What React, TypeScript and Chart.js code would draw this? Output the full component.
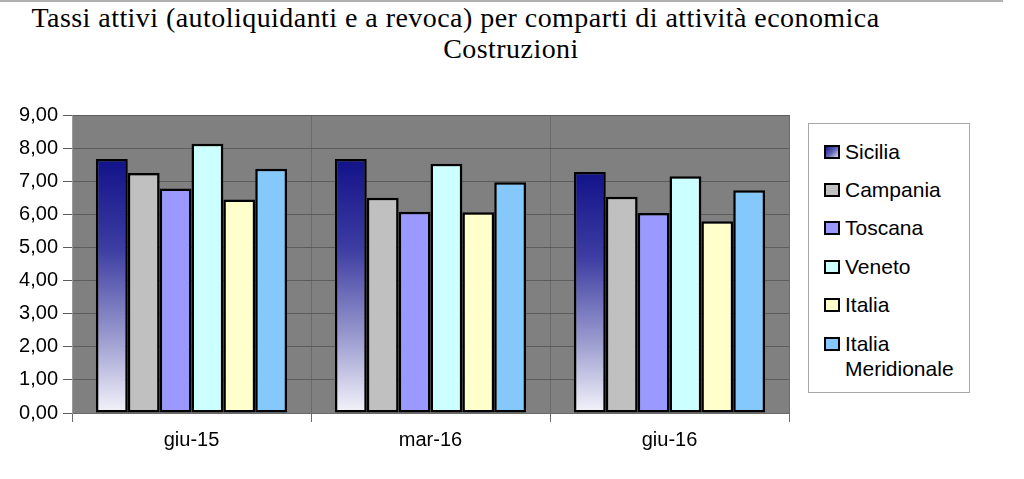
import React, { useEffect, useRef } from "react";
import { Chart, registerables } from "chart.js";

Chart.register(...registerables);

const categories = ["giu-15", "mar-16", "giu-16"];
const seriesNames = ["Sicilia", "Campania", "Toscana", "Veneto", "Italia", "Italia Meridionale"];
const sicilia = [7.67, 7.67, 7.28];
const campania = [7.25, 6.5, 6.53];
const toscana = [6.78, 6.08, 6.04];
const veneto = [8.13, 7.53, 7.15];
const italia = [6.45, 6.06, 5.79];
const meridionale = [7.38, 6.97, 6.73];
const yTicks = [0, 1, 2, 3, 4, 5, 6, 7, 8, 9];
const titleLine1 = "Tassi attivi (autoliquidanti e a revoca) per comparti di attività economica";
const titleLine2 = "Costruzioni";

const flatColors = ["#1c1c8e", "#c0c0c0", "#9999ff", "#ccffff", "#ffffcc", "#84c8fc"];
const SANS = "'Liberation Sans', Arial, sans-serif";
const SERIF = "'Liberation Serif', 'Times New Roman', serif";

export default function App() {
  const ref = useRef<HTMLCanvasElement | null>(null);

  useEffect(() => {
    if (!ref.current) return;
    const sicGradient = (ctx: any) => {
      const chart = ctx.chart;
      if (!chart.chartArea || ctx.raw === undefined) return flatColors[0];
      const ys = chart.scales.y;
      const top = ys.getPixelForValue(ctx.raw);
      const bottom = ys.getPixelForValue(0);
      const g = chart.ctx.createLinearGradient(0, top, 0, bottom);
      g.addColorStop(0, "#12128a");
      g.addColorStop(0.35, "#3c3ca2");
      g.addColorStop(0.7, "#9a9acf");
      g.addColorStop(1, "#f4f4fb");
      return g;
    };
    const values = [sicilia, campania, toscana, veneto, italia, meridionale];
    const bgPlugin = {
      id: "plotBg",
      beforeDraw(chart: any) {
        const { ctx, chartArea } = chart;
        ctx.save();
        ctx.fillStyle = "#808080";
        ctx.fillRect(chartArea.left, chartArea.top, chartArea.right - chartArea.left, chartArea.bottom - chartArea.top);
        ctx.restore();
      },
    };
    const chart = new Chart(ref.current, {
      type: "bar",
      data: {
        labels: categories,
        datasets: values.map((v, i) => ({
          label: seriesNames[i],
          data: v,
          backgroundColor: i === 0 ? sicGradient : flatColors[i],
          borderColor: "#000",
          borderWidth: 2.5,
          borderSkipped: false,
          categoryPercentage: 0.8,
          barPercentage: 1.0,
        })),
      },
      options: {
        animation: false,
        responsive: false,
        maintainAspectRatio: false,
        layout: { padding: { left: 0, top: 115, right: 235, bottom: 0 } },
        plugins: { legend: { display: false }, title: { display: false }, tooltip: { enabled: false } },
        scales: {
          x: {
            offset: true,
            grid: { offset: true, color: "#6a6a6a", tickLength: 9, drawTicks: true },
            border: { color: "#6a6a6a" },
            ticks: { color: "#000", font: { family: SANS, size: 20 }, padding: 6 },
            afterFit: (s: any) => { s.height = 66; },
          },
          y: {
            min: 0,
            max: 9,
            afterBuildTicks: (s: any) => { s.ticks = yTicks.map((v) => ({ value: v })); },
            grid: { color: "#5c5c5c", tickLength: 9, drawTicks: true },
            border: { color: "#9a9a9a" },
            ticks: {
              color: "#000",
              font: { family: SANS, size: 20 },
              padding: 5,
              callback: (v: any) => Number(v).toFixed(2).replace(".", ","),
            },
            afterFit: (s: any) => { s.width = 72; },
          },
        },
      },
      plugins: [bgPlugin],
    });
    return () => chart.destroy();
  }, []);

  const rowTops = [150, 188.5, 226.5, 265, 303.5, 342];

  return (
    <div style={{ position: "absolute", left: 0, top: 0, width: 1024, height: 479, background: "#fff", overflow: "hidden" }}>
      <div style={{ position: "absolute", left: 0, top: 0, width: 1003, height: 2, background: "#b0b0b0" }} />
      <div style={{ position: "absolute", left: 13, top: 2, width: 885, textAlign: "center", fontFamily: SERIF, fontSize: 28, lineHeight: "31px", letterSpacing: "0.45px", color: "#000", whiteSpace: "nowrap" }}>
        {titleLine1}
      </div>
      <div style={{ position: "absolute", left: 411, top: 33, width: 200, textAlign: "center", fontFamily: SERIF, fontSize: 28, lineHeight: "31px", letterSpacing: "0.45px", color: "#000", whiteSpace: "nowrap" }}>
        {titleLine2}
      </div>
      <canvas ref={ref} width={1024} height={479} style={{ position: "absolute", left: 0, top: 0, width: 1024, height: 479 }} />
      <div style={{ position: "absolute", left: 808, top: 123, width: 162, height: 270, border: "1px solid #a8a8a8", boxSizing: "border-box", background: "#fff" }}>
        {seriesNames.map((name, i) => (
          <div key={name} style={{ position: "absolute", left: 0, top: rowTops[i] - 123 - 12.5, width: 160 }}>
            <div style={{
              position: "absolute", left: 15, top: 6, width: 16, height: 14, boxSizing: "border-box", border: "2px solid #000",
              background: i === 0 ? "linear-gradient(135deg, #1a1a8c 0%, #6a6ab8 55%, #d8d8f0 100%)" : flatColors[i],
            }} />
            <div style={{ position: "absolute", left: 36, top: 0, fontFamily: SANS, fontSize: 21, lineHeight: "25px", color: "#000", whiteSpace: "nowrap" }}>
              {i === 5 ? (<>Italia<br />Meridionale</>) : name}
            </div>
          </div>
        ))}
      </div>
    </div>
  );
}
